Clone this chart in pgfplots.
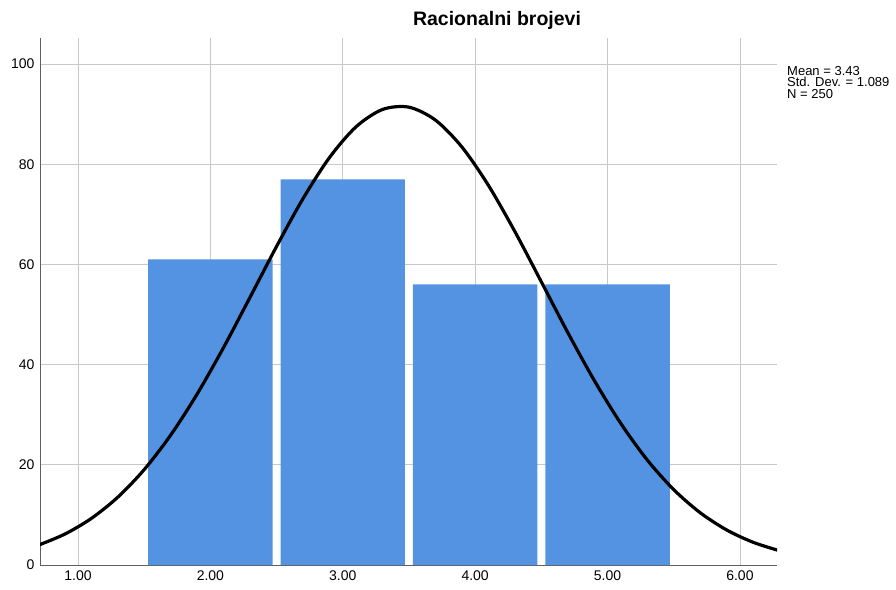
\documentclass[border=0pt]{standalone}
\usepackage{pgfplots}
\pgfplotsset{compat=1.18}
\usepackage{fontspec}
\setmainfont{Liberation Sans}
\definecolor{barblue}{RGB}{84,147,226}
\definecolor{gridgray}{RGB}{200,200,200}
\definecolor{axisgray}{RGB}{95,95,95}
\begin{document}
\begin{tikzpicture}
\useasboundingbox (-40bp,-25bp) rectangle (856bp,565bp);
\begin{axis}[
    at={(0,0)}, anchor=origin,
    scale only axis,
    width=737bp, height=527bp,
    xmin=0.713, xmax=6.28,
    ymin=0, ymax=105.2,
    axis x line*=bottom, axis y line*=left,
    axis line style={axisgray, line width=0.9pt},
    xtick={1,2,3,4,5,6},
    xticklabels={1.00,2.00,3.00,4.00,5.00,6.00},
    ytick={0,20,40,60,80,100},
    major tick length=0pt,
    grid=major,
    major grid style={gridgray, line width=0.8pt},
    tick label style={font=\fontsize{14bp}{16bp}\selectfont, text=black},
    yticklabel style={xshift=-2bp},
    xticklabel style={yshift=-2bp},
    /pgf/number format/assume math mode=true,
    ybar, bar width=0.94, bar shift=0pt,
    clip=true,
]
\addplot[fill=barblue, draw=none] coordinates {
    (2,61) (3,77) (4,56) (5,56)
};
\addplot[smooth, black, line width=3.2pt, fill=none, mark=none] coordinates {
    (0.7,3.95) (0.9,6.16) (1.1,9.28) (1.3,13.52) (1.5,19.04) (1.7,25.93)
    (1.9,34.13) (2.1,43.44) (2.3,53.46) (2.5,63.60) (2.7,73.15) (2.9,81.35)
    (3.1,87.47) (3.3,90.93) (3.5,91.39) (3.7,88.81) (3.9,83.44)
    (4.1,75.79) (4.3,66.56) (4.5,56.52) (4.7,46.39) (4.9,36.83) (5.1,28.26)
    (5.3,20.96) (5.5,15.04) (5.7,10.43) (5.9,6.99) (6.1,4.53) (6.3,2.84)
};
\end{axis}
\node[font=\bfseries\fontsize{19.5bp}{22bp}\selectfont, anchor=center] at (457bp,545bp) {Racionalni brojevi};
\node[font=\fontsize{13bp}{11.7bp}\selectfont, anchor=north west, align=left, inner sep=0pt] at (747bp,499bp) {Mean = 3.43\\Std. Dev. = 1.089\\N = 250};
\end{tikzpicture}
\end{document}
